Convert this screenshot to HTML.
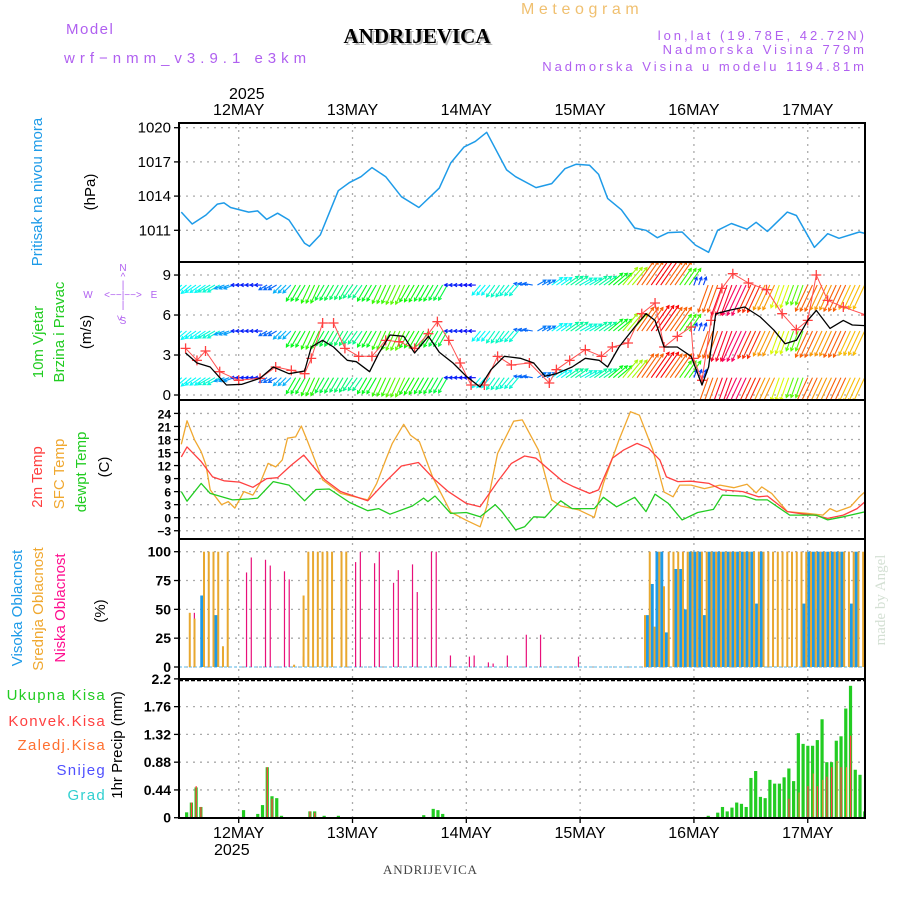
<!DOCTYPE html>
<html><head><meta charset="utf-8"><style>
html,body{margin:0;padding:0;background:#fff;}
svg{display:block;font-family:"Liberation Sans",sans-serif;}
</style></head><body>
<svg id="chart" width="900" height="900" viewBox="0 0 900 900" xmlns="http://www.w3.org/2000/svg">
<g id="texts">
<text x="66" y="34" font-size="15" fill="#b060f0" letter-spacing="1.5">Model</text>
<text x="64" y="63" font-size="15" fill="#b060f0" letter-spacing="5">wrf−nmm_v3.9.1 e3km</text>
<text x="521" y="14" font-size="16" fill="#f0c070" letter-spacing="4.6">Meteogram</text>
<text x="417" y="43" font-size="21" font-weight="bold" font-family="Liberation Serif,serif" fill="#bbb" text-anchor="middle" transform="translate(2,2)">ANDRIJEVICA</text>
<text x="417" y="43" font-size="21" font-weight="bold" font-family="Liberation Serif,serif" fill="#000" text-anchor="middle">ANDRIJEVICA</text>
<text x="867" y="40" font-size="13" fill="#b060f0" text-anchor="end" letter-spacing="3">lon,lat (19.78E, 42.72N)</text>
<text x="867" y="54" font-size="13" fill="#b060f0" text-anchor="end" letter-spacing="3">Nadmorska Visina 779m</text>
<text x="867" y="71" font-size="13" fill="#b060f0" text-anchor="end" letter-spacing="3">Nadmorska Visina u modelu 1194.81m</text>
<text x="229" y="99" font-size="16" fill="#000">2025</text>
<text x="214" y="855" font-size="16" fill="#000">2025</text>
<text x="383" y="874" font-size="13" font-family="Liberation Serif,serif" fill="#444" letter-spacing="0.8">ANDRIJEVICA</text>
<text transform="translate(885,600) rotate(-90)" font-size="15" font-family="Liberation Serif,serif" fill="#d4e0d4" text-anchor="middle">made by Angel</text>

<text transform="translate(42,192) rotate(-90)" font-size="15" fill="#1e9be8" text-anchor="middle">Pritisak na nivou mora</text>
<text transform="translate(95,192) rotate(-90)" font-size="15" fill="#000" text-anchor="middle">(hPa)</text>
<text transform="translate(43,342) rotate(-90)" font-size="15" fill="#22cc22" text-anchor="middle">10m Vjetar</text>
<text transform="translate(64,332) rotate(-90)" font-size="15" fill="#22cc22" text-anchor="middle">Brzina i Pravac</text>
<text transform="translate(91,332) rotate(-90)" font-size="15" fill="#000" text-anchor="middle">(m/s)</text>
<g font-size="10" fill="#b060f0" text-anchor="middle">
<text x="123" y="271">N</text><text x="123" y="280">^</text><text x="123" y="288">|</text>
<text x="88" y="298">W</text><text x="123" y="298">&lt;−−|−−&gt;</text><text x="154" y="298">E</text>
<text x="123" y="308">|</text><text transform="translate(123,318) rotate(-90)">&lt;</text><text x="123" y="324">S</text>
</g>
<text transform="translate(42,477) rotate(-90)" font-size="15" fill="#ff4040" text-anchor="middle">2m Temp</text>
<text transform="translate(64,474) rotate(-90)" font-size="15" fill="#f0a830" text-anchor="middle">SFC Temp</text>
<text transform="translate(86,472) rotate(-90)" font-size="15" fill="#22cc22" text-anchor="middle">dewpt Temp</text>
<text transform="translate(109,467) rotate(-90)" font-size="15" fill="#000" text-anchor="middle">(C)</text>
<text transform="translate(22,608) rotate(-90)" font-size="15" fill="#1e9be8" text-anchor="middle">Visoka Oblacnost</text>
<text transform="translate(43,609) rotate(-90)" font-size="15" fill="#f0a830" text-anchor="middle">Srednja Oblacnost</text>
<text transform="translate(65,608) rotate(-90)" font-size="15" fill="#ff1090" text-anchor="middle">Niska Oblacnost</text>
<text transform="translate(105,611) rotate(-90)" font-size="15" fill="#000" text-anchor="middle">(%)</text>
<g font-size="15" text-anchor="end" letter-spacing="1.3">
<text x="106" y="700" fill="#22cc22">Ukupna  Kisa</text>
<text x="106" y="726" fill="#ff4040">Konvek.Kisa</text>
<text x="106" y="750" fill="#ff7030">Zaledj.Kisa</text>
<text x="106" y="775" fill="#5050ff">Snijeg</text>
<text x="106" y="800" fill="#30d0d0">Grad</text>
</g>
<text transform="translate(122,745) rotate(-90)" font-size="15" fill="#000" text-anchor="middle">1hr Precip (mm)</text>
</g>
</svg>
<script>
// ---- data ----
const dayLabels = ["12MAY","13MAY","14MAY","15MAY","16MAY","17MAY"];
const presTicks = [1011,1014,1017,1020];
const windTicks = [0,3,6,9];
const tempTicks = [-3,0,3,6,9,12,15,18,21,24];
const cloudTicks = [0,25,50,75,100];
const precipTicks = [0,0.44,0.88,1.32,1.76,2.2];

const presHours = [-12.1,-9.8,-6.9,-4.5,-3.1,-1.7,2.1,4,5.9,8.2,10.6,13.9,14.9,17.2,21,23.4,25.8,28.1,31,34.3,38,42.3,44.7,47.5,49.9,52.3,56.5,58.4,62.7,66,68.8,71.2,74,75.9,77.8,80.7,83.5,85.9,88.3,90.6,93.5,96.3,99.1,101,103.9,107.2,109.1,111.5,115.7,117.6,121.4,124.2,126.6,130.9,132.3];
const presVals = [1012.6,1011.55,1012.34,1013.3,1013.4,1013.0,1012.6,1012.7,1011.96,1012.5,1011.9,1009.86,1009.6,1010.6,1014.47,1015.2,1015.7,1016.5,1015.7,1013.95,1013.0,1014.7,1016.9,1018.3,1018.8,1019.6,1016.3,1015.7,1014.75,1015.1,1016.4,1016.8,1016.7,1015.9,1013.8,1012.8,1011.2,1011.0,1010.35,1010.8,1010.85,1009.7,1009.07,1011.0,1011.6,1011.1,1011.7,1010.9,1012.6,1012.3,1009.5,1010.7,1010.3,1010.85,1010.7];

const spdHours = [-11.2,-8.8,-6,-2.6,0.7,4.5,7.3,10.6,13.9,15.3,17.7,20,22.9,24.8,27.6,29.5,31.9,34.8,37.1,40,42.3,45.2,48,50.9,53.2,56,59.4,62.2,64.6,67,70.3,73.1,76,77.8,80.2,83.5,85.9,87.8,89.7,92.5,95.4,97.7,99.1,100.6,103.4,106.7,110,112.9,115.2,117.6,120,121.8,124.7,127.5,129.4,132.3];
const spdVals = [3.15,2.4,2.1,0.75,0.8,1.25,2.1,1.6,1.8,3.6,4.1,3.6,2.6,2.5,1.75,3.1,4.5,4.4,3.15,4.4,3.2,2.4,1.4,0.6,1.9,2.9,2.75,2.4,1.4,1.6,2.1,2.75,2.6,2.1,3.6,5.1,6.1,5.6,3.6,3.6,2.9,0.75,2.1,6.1,6.35,6.6,5.85,4.85,3.85,4.1,5.6,6.35,5.0,5.6,5.25,5.2];
const gustHours = [-11.2,-8.8,-7,-4,0,4.5,7.8,11.1,13.9,15.3,17.7,20,22.4,25.3,28.1,31,33.8,37.1,40,41.9,44.3,46.7,49,51.8,54.6,57.5,61.3,65.5,67,69.8,73.1,76.5,78.8,82.1,85,87.8,89.7,92.5,95.4,95.9,97.7,99.6,101.9,104.2,107.5,111.3,114.6,117.6,120,121.8,124.2,127.5,132.3];
const gustVals = [3.5,2.6,3.3,1.75,1.1,1.25,2.1,1.85,1.6,2.75,5.4,5.4,3.5,2.9,2.9,4.1,4.0,3.5,4.6,5.5,4.1,2.4,0.75,0.75,2.9,2.25,2.4,0.9,1.9,2.6,3.4,2.9,3.6,3.9,6.1,6.9,3.6,4.4,5.1,2.75,1.1,5.6,8.0,9.1,8.4,7.9,6.1,4.9,5.6,9.0,7.1,6.6,6.0];

const windHours = [-12,-9,-6,-3,0,3,6,9,12,15,18,21,24,27,30,33,36,39,42,45,48,51,54,57,60,63,66,69,72,75,78,81,84,87,90,93,96,99,102,105,108,111,114,117,120,123,126,129,132];
const windDir = [50,55,60,70,90,90,60,45,30,25,30,30,35,30,25,25,30,30,30,90,90,40,35,40,100,240,235,235,240,235,230,220,215,215,215,215,200,20,20,25,25,25,20,20,25,25,25,25,25];
const windArrowSpd = [2,2,2.2,1.5,0.8,0.8,1.2,1.6,3.2,3.5,3,2.8,2.6,3.2,3.6,3.8,3.4,3.2,3,0.8,0.7,2,2.3,2.2,1.2,1.3,2,2.5,2.2,2.5,3.2,4.2,5.5,6,5.5,3.6,1,5.5,6.2,6.5,5.8,5.2,4.5,3.8,5.5,5.2,5.5,5,5];
const windRows = [1.3,4.8,8.25];

const t2Hours = [-12.1,-10.9,-7.9,-5.5,-3.1,0.2,3,5.9,8.2,11.1,13.7,15.8,18.2,21.5,27.2,31,34.3,37.9,41.4,44.2,48,50.9,54.6,57.5,60.3,62.7,65.1,68.4,70.7,74,75.9,78.8,81.2,84,86.4,88.8,90.2,92.6,95.4,99.2,102,106.3,109.6,111.5,115.7,118.1,121.4,124.2,127.5,130.4,132.3];
const t2Vals = [14.0,16.3,12.9,9.4,8.5,8.2,7.0,9.0,9.2,12.1,14.4,11.7,8.7,6.0,3.9,8.3,11.9,12.7,8.7,6.0,3.3,2.5,8.3,12.5,14.2,13.7,11.4,8.3,7.1,5.6,6.4,13.7,15.6,17.1,16.0,13.3,9.4,8.3,8.4,7.9,6.4,6.0,4.8,5.0,1.4,1.0,0.6,-0.15,0.6,2.1,3.9];
const sfcHours = [-12.1,-10.9,-9.3,-7.9,-6.9,-6,-3.6,-2.2,-0.8,1.1,3,4.5,6.2,7.8,9.2,10.3,12,13.2,14.4,17.7,21.5,27.2,29.1,31,32.4,34.8,36.2,38.1,40.9,44.7,48,50.9,52.3,54.6,58,59.8,63.2,66,67.9,71.7,75,76.9,80.2,82.6,84.5,87.3,89.7,91.6,93,95.4,98.2,101.5,104.4,107.2,109.1,110.3,112.4,115.7,120,123.2,124.7,126.1,129,130.9,132.3];
const sfcVals = [16.9,22.3,17.9,15.2,12.1,6.4,3.0,3.7,2.2,6.0,5.2,7.9,12.5,11.7,13.3,18.3,18.6,21.1,17.9,8.7,5.6,4.1,7.9,13.3,17.1,21.5,19.0,17.5,9.4,1.3,-0.6,-2.1,2.5,14.8,22.2,22.5,15.6,4.1,2.7,1.8,0.1,7.9,17.9,24.4,23.6,15.7,5.9,4.8,7.5,7.5,6.7,7.5,6.9,7.7,5.7,7.1,5.6,1.4,1.0,0.6,2.1,1.4,2.5,4.8,6.2];
const tdHours = [-12.1,-10.9,-7.9,-6,-1.3,2.1,4,7.3,10.6,13.9,16.3,19.1,23.4,27.2,29.5,31.9,36.6,39,39.9,41.4,44.7,48,50.9,54.1,55.5,58.4,60.3,62.2,64.6,66,67.9,70.3,75,76.9,79.7,83.5,85.9,87.8,90.6,93.5,96.8,100.1,102,106.7,109.1,111.5,116.2,121.8,124.2,127.5,132.3];
const tdVals = [6.0,3.8,7.9,5.6,4.1,4.3,4.5,8.3,7.5,3.9,6.5,6.6,3.5,1.6,2.1,0.8,2.7,4.5,3.7,5.0,1.0,1.2,0.2,3.0,1.4,-2.8,-2.1,0.2,0.1,1.8,3.9,2.1,2.1,4.7,2.5,4.7,1.4,5.4,3.3,-0.5,1.2,1.9,5.2,4.97,4.1,4.1,0.6,0.6,-0.5,0.2,1.4];

// hourly arrays, first entry = hour -12, last = hour 132
const cloudHigh = [0,0,0,0,62,0,0,45,0,0,0,0,
 0,0,0,0,0,0,0,0,0,0,0,0, 0,0,0,0,0,0,0,0,0,0,0,0, 0,0,0,0,0,0,0,0,0,0,0,0, 0,0,0,0,0,0,0,0,0,0,0,0,
 0,0,0,0,0,0,0,0,0,0,0,0, 0,0,0,0,0,0,0,0,0,0,0,0, 0,0,0,0,0,0,0,0,0,0,0,0, 0,0,45,72,100,100,30,0,85,85,50,100,
 100,100,45,100,100,100,100,100,100,100,100,100, 100,55,100,0,0,0,0,0,0,0,0,55, 100,100,100,100,100,100,100,100,0,55,100,0,0];
const cloudMid = [0,0,47,42,0,100,100,100,100,18,100,0,
 0,0,0,0,0,0,0,0,0,0,0,0, 2,0,62,100,100,100,100,100,100,0,100,100, 0,0,0,0,0,0,0,0,0,0,0,0, 0,0,0,0,0,0,0,0,0,0,0,0,
 0,0,0,0,0,0,0,0,0,0,0,0, 0,0,0,0,0,0,0,0,0,0,0,0, 0,0,0,0,0,0,0,0,0,0,0,0, 0,0,45,100,35,100,70,100,100,100,100,100,
 100,100,100,100,100,100,100,100,100,100,100,100, 100,100,100,100,100,100,100,100,100,100,100,100, 100,100,100,100,100,100,100,100,100,100,100,100,100];
const cloudLow = [0,0,47,0,0,40,0,0,0,0,0,0,
 0,82,95,0,0,93,88,0,0,83,76,0, 0,9,10,0,0,85,90,0,0,100,100,0, 91,100,0,0,90,100,0,0,73,84,0,0, 89,65,0,0,100,100,0,0,10,0,0,0,
 9,10,0,0,4,3,0,0,10,0,0,0, 28,0,0,28,0,0,0,0,0,0,0,9, 0,0,0,0,0,0,0,0,0,0,0,0, 0,0,0,0,0,0,83,0,0,100,0,0,
 0,100,0,0,100,0,0,100,0,85,0,0, 0,100,0,0,90,0,0,100,0,0,100,0, 0,0,100,0,0,100,0,0,100,0,0,0,0];
const precipTotal = [0,0.085,0.24,0.48,0.17,0,0,0,0,0,0,0,
 0,0.12,0,0,0.06,0.2,0.8,0.34,0.31,0.03,0,0, 0,0,0,0.1,0.1,0,0.03,0,0,0.03,0,0, 0,0,0,0,0,0,0,0,0,0,0,0, 0,0,0,0.04,0,0.14,0.12,0.06,0,0,0,0,
 0,0,0,0,0,0,0,0,0,0,0,0, 0,0,0,0,0,0,0,0,0,0,0,0, 0,0,0,0,0,0,0,0,0,0,0,0, 0,0,0,0,0,0,0,0,0,0,0,0,
 0,0,0,0.03,0,0.08,0.17,0.1,0.16,0.24,0.22,0.17, 0.63,0.74,0.33,0.31,0.6,0.54,0.54,0.64,0.78,0.58,1.34,1.17, 1.14,1.14,1.23,1.56,0.88,0.88,1.22,1.29,1.73,2.09,0.76,0.68,0.1];
const precipConv = [0,0,0.24,0.5,0.17,0,0,0,0,0,0,0,
 0,0,0,0,0,0,0.8,0.3,0.02,0.01,0,0, 0,0,0,0.1,0.08,0,0,0,0,0,0,0, 0,0,0,0,0,0,0,0,0,0,0,0, 0,0,0,0,0,0,0,0,0,0,0,0,
 0,0,0,0,0,0,0,0,0,0,0,0, 0,0,0,0,0,0,0,0,0,0,0,0, 0,0,0,0,0,0,0,0,0,0,0,0, 0,0,0,0,0,0,0,0,0,0,0,0,
 0,0,0,0,0,0,0,0,0,0,0,0, 0,0,0,0,0,0,0,0,0.3,0,0,0, 0.5,0,0.5,0,0.65,0.8,0,0.8,0,1.3,0,0,0];
const precipFrz = [0,0,0,0,0,0,0,0,0,0,0,0,
 0,0,0,0,0,0,0,0,0,0,0,0, 0,0,0,0,0,0,0,0,0,0,0,0, 0,0,0,0,0,0,0,0,0,0,0,0, 0,0,0,0,0,0,0,0,0,0,0,0,
 0,0,0,0,0,0,0,0,0,0,0,0, 0,0,0,0,0,0,0,0,0,0,0,0, 0,0,0,0,0,0,0,0,0,0,0,0, 0,0,0,0,0,0,0,0,0,0,0,0,
 0,0,0,0,0,0,0,0,0,0,0,0, 0,0,0,0,0,0,0,0,0,0,0.4,0, 0,0.7,0,0.6,0,0,0.9,0,0.8,0,0,0,0];

// ---- axes ----
const L=179,R=865;
const X = t => 238.7 + t*4.742;
const yP = v => 127.7 + (1020-v)*11.4;
const yW = v => 395 - v*13.33;
const yT = v => 517.7 - v*4.345;
const yC = v => 667 - v*1.153;
const yR = v => 817.7 - v*63.1;
const panels = [[123,262],[262,400],[400,539],[539,679],[679,818]];

const NS="http://www.w3.org/2000/svg";
const svg=document.getElementById('chart');
function mk(tag,attrs,parent){const e=document.createElementNS(NS,tag);for(const k in attrs)e.setAttribute(k,attrs[k]);(parent||svg).appendChild(e);return e;}

const defs=mk('defs',{});
panels.forEach((p,i)=>{const c=mk('clipPath',{id:'clip'+i},defs);mk('rect',{x:L,y:p[0],width:R-L,height:p[1]-p[0]},c);});

const grid=mk('g',{stroke:'#aaa','stroke-width':1.3,'stroke-dasharray':'2 5'});


dayLabels.forEach((d,i)=>{const x=X(i*24);mk('line',{x1:x,x2:x,y1:123,y2:818},grid);});
function hgrid(ticks,fy,fmt,fs,bold){
  ticks.forEach(v=>{const y=fy(v);
    mk('line',{x1:L,x2:R,y1:y,y2:y},grid);
    mk('line',{x1:L-5,x2:L,y1:y,y2:y,stroke:'#000','stroke-width':1.3});
    const t=mk('text',{x:L-8,y:y+5,'font-size':fs,'text-anchor':'end',fill:'#000','font-weight':bold?'bold':'normal'});
    t.textContent=fmt(v);
    
    
  });
}
hgrid(presTicks,yP,v=>v,15,false);
hgrid(windTicks,yW,v=>v,15,false);
hgrid(tempTicks,yT,v=>v<0?'−'+(-v):v,12,true);
hgrid(cloudTicks,yC,v=>v,14,true);
hgrid(precipTicks,yR,v=>v,14,true);

dayLabels.forEach((d,i)=>{const x=X(i*24);
  const a=mk('text',{x:x,y:115,'font-size':16,'text-anchor':'middle',fill:'#000'});a.textContent=d;
  
  
  const b=mk('text',{x:x,y:838,'font-size':16,'text-anchor':'middle',fill:'#000'});b.textContent=d;
  
  
});

function line(hours,vals,fy,color,w,clip,name){
  const d=hours.map((h,i)=>(i?'L':'M')+X(h).toFixed(1)+' '+fy(vals[i]).toFixed(1)).join(' ');
  const p=mk('path',{d:d,fill:'none',stroke:color,'stroke-width':w,'clip-path':'url(#clip'+clip+')','stroke-linejoin':'round'});
  
  
  return p;
}
line(presHours,presVals,yP,'#1e9be8',1.5,0,'pressure-line');

const wg=mk('g',{'clip-path':'url(#clip1)','stroke-width':1.1,fill:'none'});


for(let h=-12;h<=132;h++){
  const k=Math.min(windHours.length-1,Math.floor((h+12)/3));
  const dir=windDir[k]*Math.PI/180, s=windArrowSpd[k];
  const len=4+s*4.5;
  const dx=-Math.sin(dir)*len, dy=Math.cos(dir)*len;
  const hue=(270-s*45+360)%360;
  const col='hsl('+hue+',95%,50%)';
  windRows.forEach(r=>{
    const x0=X(h), y0=yW(r), x1=x0+dx, y1=y0+dy;
    const ang=Math.atan2(dy,dx);
    const hx1=x1-3.5*Math.cos(ang-0.5), hy1=y1-3.5*Math.sin(ang-0.5);
    const hx2=x1-3.5*Math.cos(ang+0.5), hy2=y1-3.5*Math.sin(ang+0.5);
    const a=mk('path',{d:`M${x0} ${y0}L${x1} ${y1}M${hx1} ${hy1}L${x1} ${y1}L${hx2} ${hy2}`,stroke:col},wg);
    
    
  });
}
line(gustHours,gustVals,yW,'#ff5050',1,1,'gust-line');
const gg=mk('g',{stroke:'#ff4040','stroke-width':1.3,'clip-path':'url(#clip1)'});


gustHours.forEach((h,i)=>{const x=X(h),y=yW(gustVals[i]);
  const m=mk('path',{d:`M${x-5} ${y}H${x+5}M${x} ${y-5}V${y+5}`},gg);
  
  
});
line(spdHours,spdVals,yW,'#000',1.3,1,'wind-speed-line');

line(sfcHours,sfcVals,yT,'#f0a830',1.3,2,'sfc-temp-line');
line(t2Hours,t2Vals,yT,'#ff4040',1.3,2,'temp-2m-line');
line(tdHours,tdVals,yT,'#22cc22',1.3,2,'dewpoint-line');

const cg=mk('g',{'clip-path':'url(#clip3)'});


mk('line',{x1:L,x2:R,y1:yC(0),y2:yC(0),stroke:'#90d0f0','stroke-width':1.5,'stroke-dasharray':'3 2'},cg);
cloudHigh.forEach((v,i)=>{const h=i-12;
  if(v>0){const b=mk('rect',{x:X(h)-0.5,y:yC(v),width:3,height:yC(0)-yC(v),fill:'#1e9be8'},cg);
    }
  const m=cloudMid[i];
  if(m>0){const b=mk('rect',{x:X(h)-2.5,y:yC(m),width:2,height:yC(0)-yC(m),fill:'#e8a830'},cg);
    }
  const l=cloudLow[i];
  if(l>0){const b=mk('rect',{x:X(h)+2.5,y:yC(l),width:1.2,height:yC(0)-yC(l),fill:'#e8107a'},cg);
    }
});

const pg=mk('g',{'clip-path':'url(#clip4)'});


precipTotal.forEach((v,i)=>{const h=i-12;
  if(v>0){const b=mk('rect',{x:X(h)-1.5,y:yR(v),width:3.2,height:yR(0)-yR(v),fill:'#22cc22'},pg);
    }
  const c=precipConv[i];
  if(c>0){const b=mk('rect',{x:X(h)-0.5,y:yR(c),width:1.3,height:yR(0)-yR(c),fill:'#ff4040'},pg);
    }
  const f=precipFrz[i];
  if(f>0){const b=mk('rect',{x:X(h)+0.3,y:yR(f),width:1,height:yR(0)-yR(f),fill:'#ff8030'},pg);
    }
});
mk('line',{x1:L,x2:R,y1:yR(0),y2:yR(0),stroke:'#000','stroke-width':1.5,'stroke-dasharray':'4 2'});
mk('line',{x1:L,x2:R,y1:680.5,y2:680.5,stroke:'#000','stroke-width':1.5,'stroke-dasharray':'4 2'});

panels.forEach((p,i)=>{
  const r=mk('rect',{x:L,y:p[0],width:R-L,height:p[1]-p[0],fill:'none',stroke:'#000','stroke-width':2});
  
  
});
dayLabels.forEach((d,i)=>{const x=X(i*24);mk('line',{x1:x,x2:x,y1:818,y2:823,stroke:'#000','stroke-width':1.3});});
</script>
</body></html>
